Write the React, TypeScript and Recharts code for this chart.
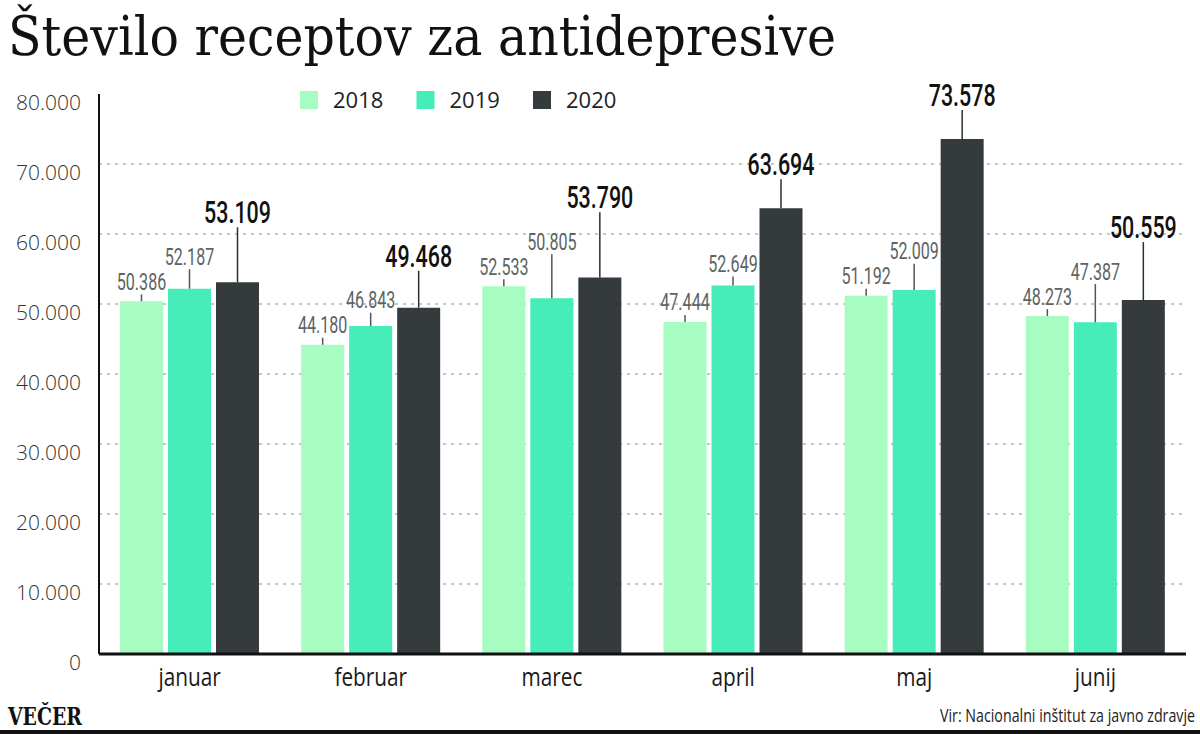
import React from "react";
import { BarChart, Bar, XAxis, YAxis, CartesianGrid, LabelList } from "recharts";

// months and yearly prescription counts
const months = ["januar", "februar", "marec", "april", "maj", "junij"];
const years = ["2018", "2019", "2020"];
const values2018 = [50386, 44180, 52533, 47444, 51192, 48273];
const values2019 = [52187, 46843, 50805, 52649, 52009, 47387];
const values2020 = [53109, 49468, 53790, 63694, 73578, 50559];
const yTicks = [0, 10000, 20000, 30000, 40000, 50000, 60000, 70000, 80000];

const seriesValues = [values2018, values2019, values2020];
const colors = ["#a6fcc1", "#46edb8", "#353b3c"];
const gridLines = yTicks.slice(1, -1);

const data = months.map((m, i) => ({
  month: m,
  y2018: seriesValues[0][i],
  y2019: seriesValues[1][i],
  y2020: seriesValues[2][i],
}));

const fmt = (v: number) => String(v).replace(/\B(?=(\d{3})+(?!\d))/g, ".");

// vertical centre of the three labels in a month, stacked so they don't collide
function labelCentres(i: number, px: (v: number) => number) {
  const a = px(values2018[i]) - 20;
  const b = Math.min(px(values2019[i]) - 22, a - 25);
  const c = Math.min(px(values2020[i]) - 44, b - 44);
  return [a, b, c];
}

const makeLabel = (s: number) => (props: any) => {
  const vb = props.viewBox && props.viewBox.width != null ? props.viewBox : props;
  const { x, y, width, height } = vb;
  const { value, index } = props;
  const base = y + height;
  const px = (v: number) => base - (v * height) / value;
  const cy = labelCentres(index, px)[s];
  const big = s === 2;
  const cx = x + width / 2;
  return (
    <g>
      <line
        x1={cx}
        x2={cx}
        y1={y}
        y2={cy + (big ? 15 : 13)}
        stroke={big ? "#2b2f30" : "#4f5757"}
        strokeWidth={1.5}
      />
      <text
        transform={`translate(${cx},${cy + (big ? 11 : 8.5)}) scale(0.67,1)`}
        textAnchor="middle"
        fontFamily="Roboto"
        fontSize={big ? 32 : 24}
        fontWeight={big ? 500 : 400}
        fill={big ? "#111" : "#5c6464"}
      >
        {fmt(value)}
      </text>
    </g>
  );
};

const YTick = (props: any) => {
  const { x, y, payload } = props;
  return (
    <text
      x={x}
      y={y + 16}
      textAnchor="end"
      fontFamily="Open Sans"
      fontWeight={300}
      fontSize={21}
      fill="#333"
    >
      {fmt(payload.value)}
    </text>
  );
};

const XTick = (props: any) => {
  const { x, y, payload } = props;
  return (
    <text
      transform={`translate(${x},${y + 32}) scale(0.8,1)`}
      textAnchor="middle"
      fontFamily="Open Sans"
      fontSize={26}
      fill="#1a1a1a"
    >
      {payload.value}
    </text>
  );
};

export default function App() {
  return (
    <div style={{ position: "absolute", left: 0, top: 0, width: 1200, height: 734, background: "#fff" }}>
      <BarChart
        width={1200}
        height={734}
        data={data}
        margin={{ top: 94, right: 14, bottom: 40, left: 0 }}
        barGap={5}
      >
        <CartesianGrid
          vertical={false}
          horizontalValues={gridLines}
          stroke="#b5b5b5"
          strokeWidth={1.5}
          strokeDasharray="3 5"
        />
        <XAxis
          dataKey="month"
          interval={0}
          tickLine={false}
          tickSize={0}
          tickMargin={0}
          height={40}
          axisLine={{ stroke: "#111", strokeWidth: 3 }}
          tick={<XTick />}
        />
        <YAxis
          domain={[0, 80000]}
          ticks={yTicks}
          interval={0}
          width={99}
          tickLine={false}
          tickSize={0}
          tickMargin={18}
          axisLine={{ stroke: "#111", strokeWidth: 2 }}
          tick={<YTick />}
        />
        {years.map((yr, s) => (
          <Bar
            key={yr}
            dataKey={"y" + yr}
            name={yr}
            fill={colors[s]}
            barSize={43}
            isAnimationActive={false}
          >
            <LabelList dataKey={"y" + yr} content={makeLabel(s)} />
          </Bar>
        ))}
      </BarChart>
      <svg
        width={1200}
        height={734}
        style={{ position: "absolute", left: 0, top: 0, pointerEvents: "none" }}
      >
        <text
          x={8}
          y={55}
          fontFamily="DejaVu Serif"
          fontSize={55}
          fill="#111"
          textLength={828}
          lengthAdjust="spacingAndGlyphs"
        >
          Število receptov za antidepresive
        </text>
        {years.map((yr, s) => (
          <g key={yr}>
            <rect x={300 + s * 116.5} y={91} width={18} height={18} fill={colors[s]} />
            <text
              x={333 + s * 116.5}
              y={108}
              fontFamily="Open Sans"
              fontSize={22}
              fill="#222"
            >
              {yr}
            </text>
          </g>
        ))}
        <text
          x={8}
          y={725}
          fontFamily="DejaVu Serif"
          fontWeight={700}
          fontSize={24}
          fill="#111"
          textLength={74}
          lengthAdjust="spacingAndGlyphs"
        >
          VEČER
        </text>
        <text
          transform="translate(1195,722) scale(0.79,1)"
          textAnchor="end"
          fontFamily="Open Sans"
          fontSize={18}
          fill="#222"
        >
          Vir: Nacionalni inštitut za javno zdravje
        </text>
        <rect x={0} y={730} width={1200} height={4} fill="#111" />
      </svg>
    </div>
  );
}
